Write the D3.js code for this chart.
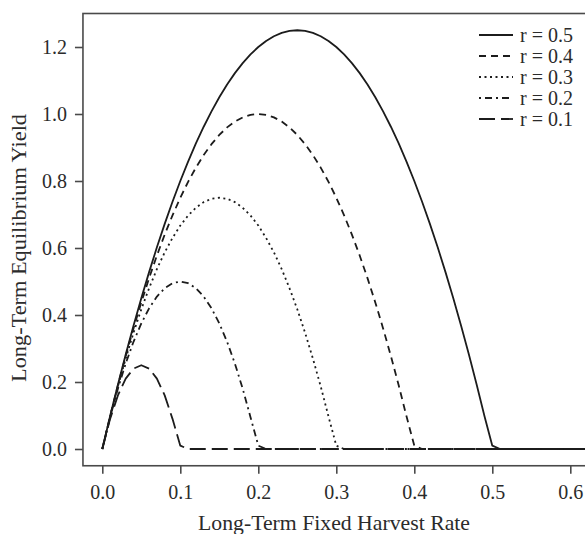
<!DOCTYPE html>
<html>
<head>
<meta charset="utf-8">
<script src="https://cdn.jsdelivr.net/npm/d3@7"></script>
<style>
  html, body { margin: 0; padding: 0; background: #fff; }
  svg { display: block; }
  text { font-family: "Liberation Serif", "DejaVu Serif", serif; fill: #2b2b2b; }
</style>
</head>
<body>
<svg id="chart" width="585" height="534"></svg>
<script>
// ---- data ----
const harvestRates = [0,0.01,0.02,0.03,0.04,0.05,0.06,0.07,0.08,0.09,0.10,0.11,0.12,0.13,0.14,0.15,0.16,0.17,0.18,0.19,0.20,
  0.21,0.22,0.23,0.24,0.25,0.26,0.27,0.28,0.29,0.30,0.31,0.32,0.33,0.34,0.35,0.36,0.37,0.38,0.39,0.40,
  0.41,0.42,0.43,0.44,0.45,0.46,0.47,0.48,0.49,0.50,0.51];
const xEnd = 0.62;

const yieldR05 = [0,0.098,0.192,0.282,0.368,0.45,0.528,0.602,0.672,0.738,0.8,0.858,0.912,0.962,1.008,1.05,1.088,1.122,1.152,1.178,1.2,
  1.218,1.232,1.242,1.248,1.25,1.248,1.242,1.232,1.218,1.2,1.178,1.152,1.122,1.088,1.05,1.008,0.962,0.912,0.858,0.8,
  0.738,0.672,0.602,0.528,0.45,0.368,0.282,0.192,0.098,0.01,0];
const yieldR04 = [0,0.0975,0.19,0.2775,0.36,0.4375,0.51,0.5775,0.64,0.6975,0.75,0.7975,0.84,0.8775,0.91,0.9375,0.96,0.9775,0.99,0.9975,1.0,
  0.9975,0.99,0.9775,0.96,0.9375,0.91,0.8775,0.84,0.7975,0.75,0.6975,0.64,0.5775,0.51,0.4375,0.36,0.2775,0.19,0.0975,0.01,0];
const yieldR03 = [0,0.097,0.187,0.27,0.347,0.417,0.48,0.537,0.587,0.63,0.667,0.697,0.72,0.737,0.747,0.75,
  0.747,0.737,0.72,0.697,0.667,0.63,0.587,0.537,0.48,0.417,0.347,0.27,0.187,0.097,0.01,0];
const yieldR02 = [0,0.095,0.18,0.255,0.32,0.375,0.42,0.455,0.48,0.495,0.5,
  0.495,0.48,0.455,0.42,0.375,0.32,0.255,0.18,0.095,0.01,0];
const yieldR01 = [0,0.09,0.16,0.21,0.24,0.25,0.24,0.21,0.16,0.09,0.01,0];

const seriesLabels = ["r = 0.5","r = 0.4","r = 0.3","r = 0.2","r = 0.1"];
const seriesValues = [yieldR05, yieldR04, yieldR03, yieldR02, yieldR01];
const seriesDash = ["none", "7,5", "2,3.5", "2,4,7,4", "16,6"];

const xTicks = [0,0.1,0.2,0.3,0.4,0.5,0.6];
const yTicks = [0,0.2,0.4,0.6,0.8,1.0,1.2];

// ---- layout ----
const svg = d3.select("#chart");
const x = d3.scaleLinear().domain([0, 0.6]).range([102.3, 570.3]);
const y = d3.scaleLinear().domain([0, 1.2]).range([449, 47]);

const boxL = x(-0.0248), boxR = x(0.644), boxT = y(1.3), boxB = y(-0.05);

svg.append("defs").append("clipPath").attr("id","clip")
  .append("rect").attr("x", boxL).attr("y", boxT).attr("width", boxR - boxL).attr("height", boxB - boxT);

// lines
const line = d3.line().x(d => x(d[0])).y(d => y(d[1]));
const g = svg.append("g").attr("clip-path","url(#clip)");
seriesValues.forEach((vals, i) => {
  const pts = vals.map((v, j) => [harvestRates[j], v]);
  pts.push([xEnd, 0]);
  g.append("path")
    .attr("d", line(pts))
    .attr("fill","none")
    .attr("stroke","#1c1c1c")
    .attr("stroke-width", 1.8)
    .attr("stroke-linejoin","round")
    .attr("stroke-dasharray", seriesDash[i]);
});

// box
svg.append("rect")
  .attr("x", boxL).attr("y", boxT).attr("width", boxR - boxL).attr("height", boxB - boxT)
  .attr("fill","none").attr("stroke","#4a4a4a").attr("stroke-width",1.6);

// axes
const yAxis = svg.append("g").attr("transform", `translate(${boxL},0)`)
  .call(d3.axisLeft(y).tickValues(yTicks).tickFormat(d3.format(".1f")).tickSize(8).tickPadding(8));
const xAxis = svg.append("g").attr("transform", `translate(0,${boxB})`)
  .call(d3.axisBottom(x).tickValues(xTicks).tickFormat(d3.format(".1f")).tickSize(8).tickPadding(11));
[yAxis, xAxis].forEach(a => {
  a.select(".domain").remove();
  a.selectAll(".tick line").attr("stroke","#4a4a4a").attr("stroke-width",1.6);
  a.selectAll(".tick text").attr("font-size", 20).attr("fill","#2b2b2b")
    .style("font-family", '"Liberation Serif", serif');
});

// titles
svg.append("text")
  .attr("x", 334).attr("y", 530)
  .attr("text-anchor","middle").attr("font-size", 22)
  .attr("textLength", 272).attr("lengthAdjust", "spacingAndGlyphs")
  .text("Long-Term Fixed Harvest Rate");
svg.append("text")
  .attr("transform", "translate(26,248) rotate(-90)")
  .attr("text-anchor","middle").attr("font-size", 22)
  .attr("textLength", 268).attr("lengthAdjust", "spacingAndGlyphs")
  .text("Long-Term Equilibrium Yield");

// legend
const leg = svg.append("g");
seriesLabels.forEach((lab, i) => {
  const yy = 35 + i * 21;
  leg.append("line").attr("x1", 479).attr("x2", 513).attr("y1", yy).attr("y2", yy)
    .attr("stroke","#1c1c1c").attr("stroke-width",1.8).attr("stroke-dasharray", seriesDash[i]);
  leg.append("text").attr("x", 520).attr("y", yy + 6.5).attr("font-size", 20).text(lab);
});
</script>
</body>
</html>
